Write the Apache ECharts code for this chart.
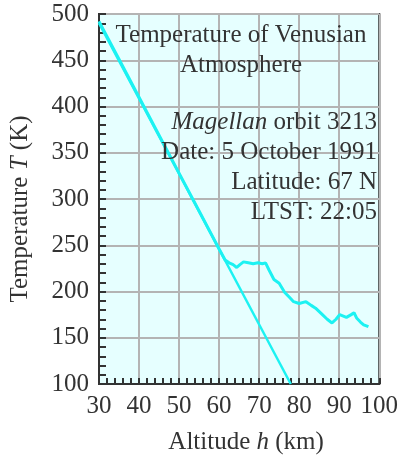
<!DOCTYPE html>
<html>
<head>
<meta charset="utf-8">
<script src="https://cdn.jsdelivr.net/npm/echarts@6/dist/echarts.min.js"></script>
<style>
  html, body { margin: 0; padding: 0; background: #ffffff; }
  #chart { width: 401px; height: 460px; }
</style>
</head>
<body>
<div id="chart"></div>
<script>
// Measured temperature profile: altitude (km) and temperature (K)
const measuredAltitude = [30, 35, 40, 45, 50, 55, 60, 61.5, 62.5, 63.5, 64.4, 65.2, 66.1, 67.3, 68.5, 69.7, 70.8, 71.6, 72.5, 73.7, 75, 76.4, 77.5, 78.6, 80, 81.7, 83, 84.1, 85.8, 87, 88.2, 89.2, 90.1, 91.8, 93, 93.7, 94.4, 95.3, 96.1, 97.3];
const measuredTemp = [492, 451, 410, 369, 328, 287, 246, 234, 231, 229, 226, 229, 232, 231, 230, 231, 230, 231, 223, 213, 209, 199, 194, 189, 187, 189, 185, 182, 175, 170, 166, 170, 175, 172, 175, 177, 171, 167, 164, 162];

// Adiabatic lapse-rate line
const lapseAltitude = [30, 77.9];
const lapseTemp = [490, 100];

// Axis ticks
const xTicks = [30, 40, 50, 60, 70, 80, 90, 100];
const yTicks = [100, 150, 200, 250, 300, 350, 400, 450, 500];

const FONT = '"Liberation Serif", "Times New Roman", serif';
const SIZE = 25;
const TEXT = '#333333';
const CYAN = '#1cf2f2';

const chart = echarts.init(document.getElementById('chart'), null, { renderer: 'canvas' });

const pairs = (xs, ys) => xs.map((x, i) => [x, ys[i]]);

const tickStyle = { color: '#333333', width: 2 };

chart.setOption({
  animation: false,
  grid: {
    left: 95, right: 15, top: 14, bottom: 76,
    show: true,
    backgroundColor: '#e6ffff',
    borderColor: '#333333',
    borderWidth: 2
  },
  xAxis: {
    type: 'value',
    min: xTicks[0], max: xTicks[xTicks.length - 1], interval: 10,
    name: 'Altitude {i|h} (km)',
    nameLocation: 'middle',
    nameGap: 46,
    nameTextStyle: {
      fontFamily: FONT, fontSize: SIZE, color: TEXT,
      padding: [0, 0, 0, 14],
      rich: { i: { fontFamily: FONT, fontSize: SIZE, fontStyle: 'italic', color: TEXT } }
    },
    axisLine: { show: true, lineStyle: { color: '#333333', width: 2 } },
    axisTick: { show: true, inside: true, length: 6, lineStyle: tickStyle },
    minorTick: { show: true, splitNumber: 5, length: 6, lineStyle: tickStyle },
    splitLine: { show: true, lineStyle: { color: '#b4b4b4', width: 2 } },
    axisLabel: { fontFamily: FONT, fontSize: SIZE, color: TEXT, margin: 10 }
  },
  yAxis: {
    type: 'value',
    min: yTicks[0], max: yTicks[yTicks.length - 1], interval: 50,
    name: 'Temperature {i|T} (K)',
    nameLocation: 'middle',
    nameGap: 66,
    nameTextStyle: {
      fontFamily: FONT, fontSize: SIZE, color: TEXT,
      padding: [0, 20, 0, 0],
      rich: { i: { fontFamily: FONT, fontSize: SIZE, fontStyle: 'italic', color: TEXT } }
    },
    axisLine: { show: true, lineStyle: { color: '#333333', width: 2 } },
    axisTick: { show: true, inside: true, length: 7, lineStyle: tickStyle },
    minorTick: { show: true, splitNumber: 5, length: 7, lineStyle: tickStyle },
    splitLine: { show: true, lineStyle: { color: '#b4b4b4', width: 2 } },
    axisLabel: { fontFamily: FONT, fontSize: SIZE, color: TEXT, margin: 10 }
  },
  series: [
    {
      type: 'line',
      data: pairs(measuredAltitude, measuredTemp),
      showSymbol: false,
      lineStyle: { color: CYAN, width: 3 },
      z: 3
    },
    {
      type: 'line',
      data: pairs(lapseAltitude, lapseTemp),
      showSymbol: false,
      lineStyle: { color: CYAN, width: 2.5 },
      z: 3
    }
  ],
  // Title and observation details inside the plot area
  graphic: [
    {
      type: 'text',
      z: 10,
      style: {
        x: 241, y: 50, text: 'Temperature of Venusian\nAtmosphere',
        font: SIZE + 'px ' + FONT, fill: TEXT, align: 'center', verticalAlign: 'middle',
        lineHeight: 30
      }
    },
    {
      type: 'text',
      z: 10,
      style: {
        x: 377, y: 107,
        text: '{i|Magellan} orbit 3213\nDate: 5 October 1991\nLatitude: 67 N\nLTST: 22:05',
        font: SIZE + 'px ' + FONT, fill: TEXT, align: 'right', verticalAlign: 'top',
        lineHeight: 30,
        rich: { i: { fontStyle: 'italic', fontFamily: FONT, fontSize: SIZE, fill: TEXT } }
      }
    }
  ]
});
</script>
</body>
</html>
